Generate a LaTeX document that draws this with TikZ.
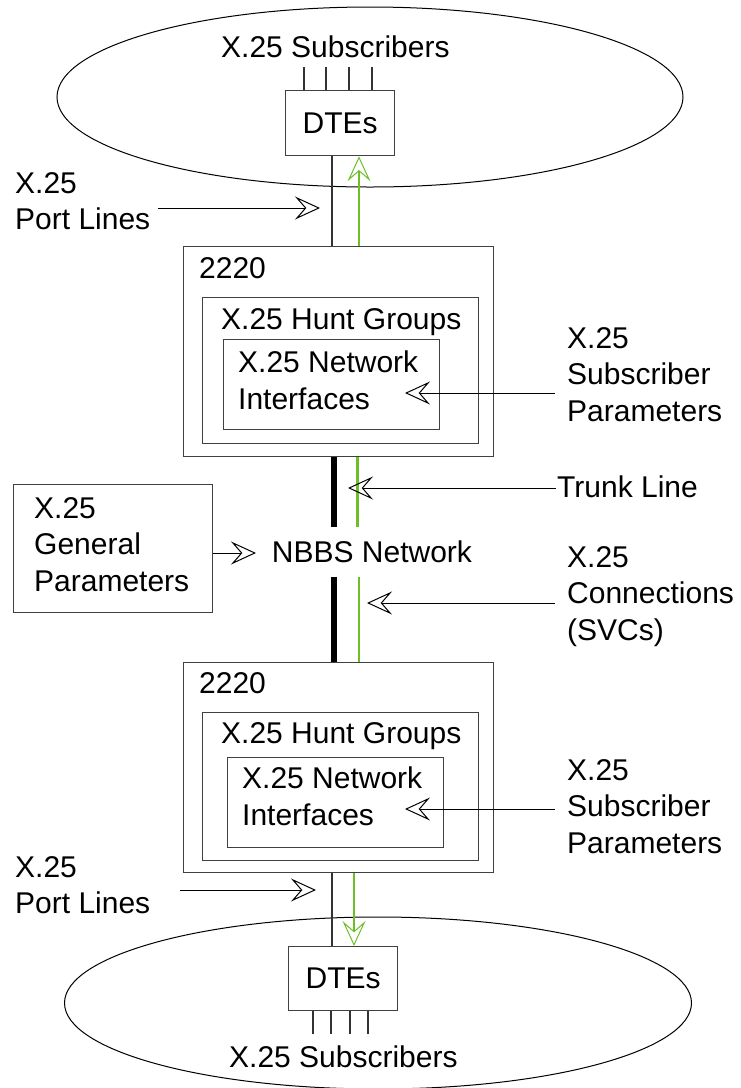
\documentclass[tikz,border=0pt]{standalone}
\usepackage{fontspec}
\setmainfont{Liberation Sans}
\usetikzlibrary{arrows.meta,shapes.geometric,calc}
\definecolor{lgreen}{RGB}{110,190,40}
\begin{document}
\begin{tikzpicture}[x=1pt,y=-1pt,
  every node/.style={font=\fontsize{30}{36.5}\selectfont},
  lbl/.style={anchor=north west,inner sep=0pt,align=left},
  cloud/.style={ellipse,draw=black,line width=1pt,inner sep=0pt},
  boxg/.style={draw=black!75,line width=1.3pt,inner sep=0pt,anchor=north west},
  conn/.style={draw=black!80,line width=1.2pt},
  openarr/.style={-{Stealth[open,length=25pt,width=23pt,inset=10pt,line width=1pt]}},
  thinarr/.style={line width=1pt,black,openarr},
  grarr/.style={lgreen,line width=1.3pt,openarr}]
\useasboundingbox (0,0) rectangle (740,1088);
% ellipses
\node[cloud,minimum width=626pt,minimum height=180pt] (ellT) at (370,97) {};
\node[cloud,minimum width=627pt,minimum height=172pt] (ellB) at (378,1003) {};
% DTE boxes
\node[boxg,minimum width=109pt,minimum height=65pt] (dteT) at (285,90) {};
\node at (dteT.center) {DTEs};
\node[boxg,minimum width=109pt,minimum height=64pt] (dteB) at (288,946) {};
\node at (dteB.center) {DTEs};
% 2220 upper
\node[boxg,minimum width=310pt,minimum height=210pt] (boxA) at (183,246) {};
\node[boxg,minimum width=276pt,minimum height=146pt] (midA) at (202,297) {};
\node[boxg,minimum width=216pt,minimum height=90pt] (inA) at (223,339) {};
% 2220 lower
\node[boxg,minimum width=310pt,minimum height=210pt] (boxB) at (183,662) {};
\node[boxg,minimum width=276pt,minimum height=148pt] (midB) at (202,712) {};
\node[boxg,minimum width=216pt,minimum height=90pt] (inB) at (227,757) {};
% general params box
\node[boxg,minimum width=199pt,minimum height=128pt] (gen) at (13,484) {};
% texts
\node[lbl] (tsubT) at (221,36) {X.25 Subscribers};
\node[lbl] (tportT) at (15,172) {X.25\\Port Lines};
\node[lbl] (t2220A) at (199,257) {2220};
\node[lbl] (thuntA) at (221,308) {X.25 Hunt Groups};
\node[lbl] (tnetA) at (238,351) {X.25 Network\\Interfaces};
\node[lbl] (tspA) at (567,327) {X.25\\Subscriber\\Parameters};
\node[lbl] (ttrunk) at (557,476) {Trunk Line};
\node[lbl] (tgen) at (34,497) {X.25\\General\\Parameters};
\node[inner sep=0pt,minimum height=49pt] (nbbs) at (372,552) {NBBS Network};
\node[lbl] (tconn) at (567,546) {X.25\\Connections\\(SVCs)};
\node[lbl] (t2220B) at (199,672) {2220};
\node[lbl] (thuntB) at (221,722) {X.25 Hunt Groups};
\node[lbl] (tnetB) at (242,767) {X.25 Network\\Interfaces};
\node[lbl] (tspB) at (567,759) {X.25\\Subscriber\\Parameters};
\node[lbl] (tportB) at (15,856) {X.25\\Port Lines};
\node[lbl] (tsubB) at (229,1046) {X.25 Subscribers};
% x guide coordinates
\coordinate (bkA) at (332,0);
\coordinate (grA) at (359,0);
\coordinate (tkB) at (334,0);
\coordinate (tgA) at (357,0);
\coordinate (tgB) at (359,0);
\coordinate (bkB) at (332,0);
\coordinate (grB) at (354,0);
% subscriber stubs
\foreach \dx in {19,41,64,87}
  \draw[conn] (dteT.north west) ++(\dx,0) -- ++(0,-23);
\foreach \dx in {25,43,62,80}
  \draw[conn] (dteB.south west) ++(\dx,0) -- ++(0,23);
% port lines top
\draw[conn] (dteT.south -| bkA) -- (boxA.north -| bkA);
\draw[grarr] (boxA.north -| grA) -- (dteT.south -| grA);
% trunk
\draw[black,line width=6pt] (boxA.south -| tkB) -- (nbbs.north -| tkB);
\draw[black,line width=6pt] (nbbs.south -| tkB) -- (boxB.north -| tkB);
\draw[lgreen,line width=3pt] (boxA.south -| tgA) -- (nbbs.north -| tgA);
\draw[lgreen,line width=1.3pt] (nbbs.south -| tgB) -- (boxB.north -| tgB);
% port lines bottom
\draw[conn] (boxB.south -| bkB) -- (dteB.north -| bkB);
\draw[grarr] (boxB.south -| grB) -- (dteB.north -| grB);
% label arrows
\coordinate (a1s) at (158,208); \coordinate (a1e) at (320,208);
\draw[thinarr] (a1s) -- (a1e);
\coordinate (a2s) at (555,393); \coordinate (a2e) at (405,393);
\draw[thinarr] (a2s) -- (a2e);
\coordinate (a3s) at (556,488); \coordinate (a3e) at (348,488);
\draw[thinarr] (a3s) -- (a3e);
\coordinate (a4e) at (256,553);
\draw[thinarr] (gen.east |- a4e) -- (a4e);
\coordinate (a5s) at (555,603); \coordinate (a5e) at (367,603);
\draw[thinarr] (a5s) -- (a5e);
\coordinate (a6s) at (555,809); \coordinate (a6e) at (405,809);
\draw[thinarr] (a6s) -- (a6e);
\coordinate (a7s) at (180,890); \coordinate (a7e) at (316,890);
\draw[thinarr] (a7s) -- (a7e);
\end{tikzpicture}
\end{document}
